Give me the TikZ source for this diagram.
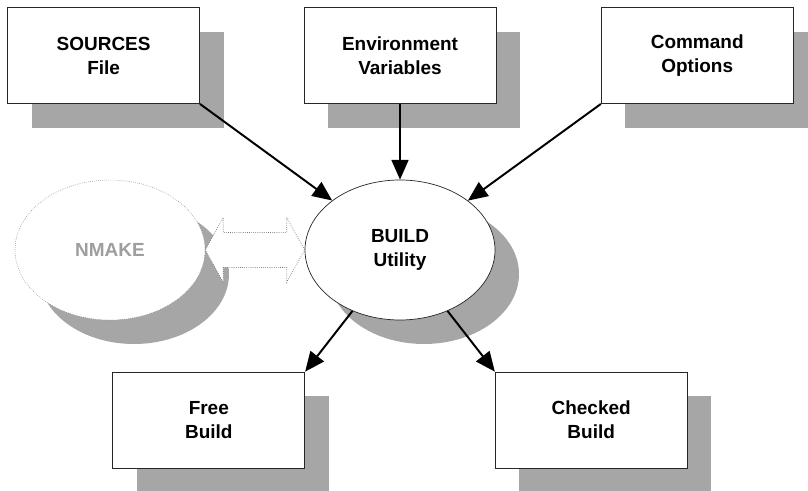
\documentclass[tikz,border=0pt]{standalone}
\usepackage{fontspec}
\setmainfont{Liberation Sans}
\usetikzlibrary{shadows}
\usetikzlibrary{shapes.geometric, positioning, arrows.meta, calc}

\begin{document}
\begin{tikzpicture}[
    thick,
    shade/.style={drop shadow={shadow xshift=0.6cm, shadow yshift=-0.6cm, fill=black!35, opacity=1}},
    box/.style={draw=black!85, line width=0.5pt, rectangle, minimum width=4.8cm, minimum height=2.4cm, align=center, fill=white, font=\bfseries\fontsize{13.5}{17}\selectfont, shade},
    tool/.style={draw=black!85, line width=0.5pt, ellipse, minimum width=4.75cm, minimum height=3.5cm, align=center, fill=white, font=\bfseries\fontsize{13.5}{17}\selectfont, shade},
    ghost/.style={tool, draw=black!50, line width=0.4pt, densely dotted, text=black!38},
    twoway/.style={draw=black!55, line width=0.5pt, densely dotted, fill=white},
    arr/.style={line width=1.4pt, -{Triangle[length=14pt, width=12pt]}}
]
    \useasboundingbox (0,0) rectangle (20.2,-12.275);

    % Inputs
    \node[box] (src) at (2.59,-1.39) {SOURCES\\File};
    \node[box] (env) at (10,-1.39) {Environment\\Variables};
    \node[box] (cmd) at (17.43,-1.39) {Command\\Options};

    % Utilities
    \node[ghost] (nmake) at (2.75,-6.25) {NMAKE};
    \node[tool] (build) at (10,-6.25) {BUILD\\Utility};

    % Hollow two-way arrow between the utilities
    \draw[twoway] (nmake.east) -- ($(nmake.east)+(0.45,0.8125)$) -- ($(nmake.east)+(0.45,0.4375)$)
        -- ($(build.west)+(-0.45,0.4375)$) -- ($(build.west)+(-0.45,0.8125)$) -- (build.west)
        -- ($(build.west)+(-0.45,-0.8125)$) -- ($(build.west)+(-0.45,-0.4375)$)
        -- ($(nmake.east)+(0.45,-0.4375)$) -- ($(nmake.east)+(0.45,-0.8125)$) -- cycle;

    % Outputs
    \node[box] (free) at (5.22,-10.5) {Free\\Build};
    \node[box] (chk) at (14.78,-10.5) {Checked\\Build};

    % Connections
    \draw[arr] (src.south east) -- (build);
    \draw[arr] (env) -- (build);
    \draw[arr] (cmd.south west) -- (build);
    \draw[arr] (build) -- (free.north east);
    \draw[arr] (build) -- (chk.north west);

\end{tikzpicture}
\end{document}
